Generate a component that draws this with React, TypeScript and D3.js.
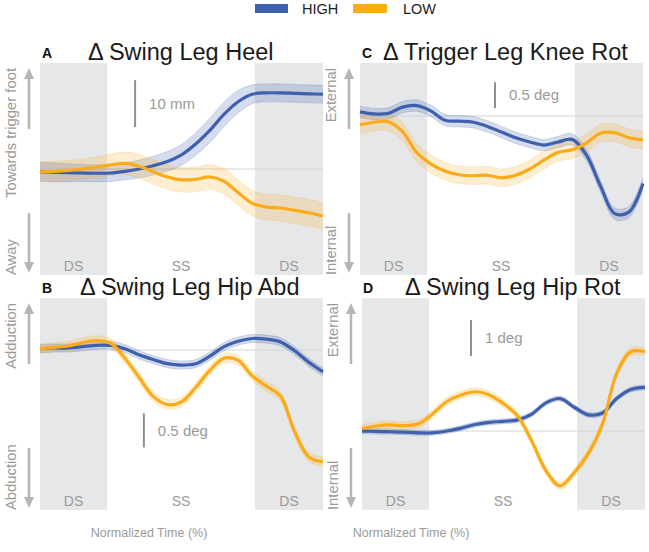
import React from 'react';
import * as d3 from 'd3';

// normalized time grid (%)
const timePct = [0, 5, 10, 15, 20, 25, 30, 35, 40, 45, 50, 55, 60, 65, 70, 75, 80, 85, 90, 95, 100];

// A - swing leg heel (mm)
const heelHigh = [-0.6, -0.7, -0.8, -0.85, -0.9, -0.85, -0.5, 0.0, 0.7, 1.6, 3.0, 5.3, 8.2, 11.6, 14.3, 15.9, 16.2, 16.2, 16.1, 16.0, 15.9];
const heelLow = [-0.6, -0.5, -0.3, 0.0, 0.4, 0.9, 1.2, 0.6, -0.6, -1.7, -2.3, -2.2, -1.7, -2.6, -5.0, -7.3, -8.1, -8.3, -8.8, -9.3, -10.0];
const heelHighCi = [2.0, 2.0, 1.9, 1.8, 1.8, 1.8, 1.8, 1.9, 2.0, 2.1, 2.2, 2.4, 2.6, 2.6, 2.4, 2.0, 1.9, 1.9, 1.9, 1.9, 1.9];
const heelLowCi = [2.1, 2.1, 2.1, 2.1, 2.2, 2.3, 2.4, 2.5, 2.6, 2.6, 2.6, 2.6, 2.6, 2.7, 2.7, 2.7, 2.7, 2.8, 2.8, 2.8, 2.8];

// B - swing leg hip abduction (deg)
const hipAbdHigh = [0.02, 0.03, 0.03, 0.05, 0.07, 0.07, 0.02, -0.07, -0.14, -0.2, -0.22, -0.2, -0.09, 0.05, 0.13, 0.17, 0.16, 0.12, -0.01, -0.18, -0.32];
const hipAbdLow = [0.02, 0.04, 0.06, 0.11, 0.14, 0.1, -0.12, -0.4, -0.68, -0.8, -0.76, -0.55, -0.3, -0.12, -0.15, -0.38, -0.53, -0.68, -1.2, -1.57, -1.64];
const hipAbdHighCi = 0.06;
const hipAbdLowCi = 0.07;

// C - trigger leg knee rotation (deg)
const kneeRotHigh = [0.08, 0.04, 0.05, 0.17, 0.2, 0.1, -0.08, -0.1, -0.12, -0.2, -0.31, -0.42, -0.5, -0.56, -0.5, -0.45, -0.75, -1.35, -1.88, -1.85, -1.3];
const kneeRotLow = [-0.17, -0.12, -0.11, -0.3, -0.7, -0.92, -1.06, -1.13, -1.15, -1.14, -1.19, -1.14, -1.02, -0.85, -0.7, -0.65, -0.52, -0.33, -0.32, -0.42, -0.46];
const kneeRotHighCi = 0.11;
const kneeRotLowCi = 0.17;

// D - swing leg hip rotation (deg)
const hipRotHigh = [0, -0.01, -0.02, -0.03, -0.05, -0.05, 0.0, 0.08, 0.18, 0.24, 0.27, 0.31, 0.47, 0.78, 0.9, 0.66, 0.45, 0.5, 0.9, 1.15, 1.21];
const hipRotLow = [0.07, 0.14, 0.17, 0.15, 0.2, 0.48, 0.82, 1.0, 1.09, 1.0, 0.76, 0.42, -0.28, -1.1, -1.52, -1.15, -0.62, 0.2, 1.6, 2.2, 2.2];
const hipRotHighCi = 0.07;
const hipRotLowCi = 0.11;

const phases = [
  { label: 'DS', from: 0, to: 23.7 },
  { label: 'SS', from: 23.7, to: 76 },
  { label: 'DS', from: 76, to: 100 },
];

const HIGH = '#3e60ad';
const LOW = '#fbab18';
const GREY_TXT = '#9a9a9a';
const ARROW = '#b5b5b5';
const FONT = "'Liberation Sans', Arial, Helvetica, sans-serif";

type Ci = number | number[];

const panels = [
  {
    letter: 'A', title: 'Δ Swing Leg Heel', titleX: 88, letterX: 42,
    x0: 40, x1: 323, y0: 63, y1: 275, domain: [-22.55, 22.55],
    high: heelHigh, low: heelLow, highCi: heelHighCi as Ci, lowCi: heelLowCi as Ci,
    up: 'Towards trigger foot', down: 'Away',
    bar: { pct: 33.6, top: 18.9, len: 10, label: '10 mm' },
  },
  {
    letter: 'C', title: 'Δ Trigger Leg Knee Rot', titleX: 383, letterX: 362,
    x0: 360, x1: 643, y0: 63, y1: 275, domain: [-3.06, 1.02],
    high: kneeRotHigh, low: kneeRotLow, highCi: kneeRotHighCi as Ci, lowCi: kneeRotLowCi as Ci,
    up: 'External', down: 'Internal',
    bar: { pct: 47.7, top: 0.65, len: 0.5, label: '0.5 deg' },
  },
  {
    letter: 'B', title: 'Δ Swing Leg Hip Abd', titleX: 80, letterX: 42,
    x0: 40, x1: 323, y0: 298, y1: 510, domain: [-2.35, 0.765],
    high: hipAbdHigh, low: hipAbdLow, highCi: hipAbdHighCi as Ci, lowCi: hipAbdLowCi as Ci,
    up: 'Adduction', down: 'Abduction',
    bar: { pct: 36.7, top: -0.93, len: 0.5, label: '0.5 deg' },
  },
  {
    letter: 'D', title: 'Δ Swing Leg Hip Rot', titleX: 405, letterX: 363,
    x0: 362, x1: 645, y0: 298, y1: 510, domain: [-2.19, 3.69],
    high: hipRotHigh, low: hipRotLow, highCi: hipRotHighCi as Ci, lowCi: hipRotLowCi as Ci,
    up: 'External', down: 'Internal',
    bar: { pct: 38.5, top: 3.08, len: 1, label: '1 deg' },
  },
];

const ciAt = (ci: Ci, i: number) => (Array.isArray(ci) ? ci[i] : ci);

const Arrow = ({ x, tail, tip }: { x: number; tail: number; tip: number }) => {
  const dir = tip < tail ? -1 : 1;
  const head = 11;
  const base = tip - dir * head;
  return (
    <g>
      <line x1={x} x2={x} y1={tail} y2={base} stroke={ARROW} strokeWidth={2.5} />
      <path d={`M${x - 5},${base} L${x + 5},${base} L${x},${tip} Z`} fill={ARROW} />
    </g>
  );
};

const Panel = ({ p }: { p: typeof panels[number] }) => {
  const x = d3.scaleLinear().domain([0, 100]).range([p.x0, p.x1]);
  const y = d3.scaleLinear().domain(p.domain).range([p.y1, p.y0]);
  const curve = d3.curveCatmullRom.alpha(0.5);
  const line = d3.line<number>().x((_, i) => x(timePct[i])).y(d => y(d)).curve(curve);
  const area = (vals: number[], ci: Ci) =>
    d3.area<number>()
      .x((_, i) => x(timePct[i]))
      .y0((d, i) => y(d - ciAt(ci, i)))
      .y1((d, i) => y(d + ciAt(ci, i)))
      .curve(curve)(vals) as string;
  const bandEdge = (vals: number[], ci: Ci, s: number) =>
    d3.line<number>().x((_, i) => x(timePct[i])).y((d, i) => y(d + s * ciAt(ci, i))).curve(curve)(vals) as string;

  const ax = p.x0 - 11;
  const tx = p.x0 - 29;
  const barX = x(p.bar.pct);
  const barTop = y(p.bar.top);
  const barBot = y(p.bar.top - p.bar.len);

  return (
    <g>
      {phases.map((ph, i) => (
        ph.label === 'DS' ? (
          <rect key={i} x={x(ph.from)} y={p.y0} width={x(ph.to) - x(ph.from)} height={p.y1 - p.y0} fill="#e6e7e9" />
        ) : null
      ))}
      <line x1={p.x0} x2={p.x1} y1={y(0)} y2={y(0)} stroke="#d4d4d4" strokeWidth={1} />
      {phases.map((ph, i) => (
        <text key={i} x={x((ph.from + ph.to) / 2)} y={p.y1 - 4} textAnchor="middle" fontSize={14} fill={GREY_TXT}>
          {ph.label}
        </text>
      ))}

      {/* confidence bands */}
      <path d={area(p.high, p.highCi)} fill={HIGH} fillOpacity={0.22} />
      <path d={bandEdge(p.high, p.highCi, 1)} fill="none" stroke={HIGH} strokeOpacity={0.25} strokeWidth={0.8} />
      <path d={bandEdge(p.high, p.highCi, -1)} fill="none" stroke={HIGH} strokeOpacity={0.25} strokeWidth={0.8} />
      <path d={area(p.low, p.lowCi)} fill={LOW} fillOpacity={0.2} />
      <path d={bandEdge(p.low, p.lowCi, 1)} fill="none" stroke={LOW} strokeOpacity={0.25} strokeWidth={0.8} />
      <path d={bandEdge(p.low, p.lowCi, -1)} fill="none" stroke={LOW} strokeOpacity={0.25} strokeWidth={0.8} />

      <path d={line(p.high) as string} fill="none" stroke={HIGH} strokeWidth={3.2} />
      <path d={line(p.low) as string} fill="none" stroke={LOW} strokeWidth={3.2} />

      {/* scale bar */}
      <line x1={barX} x2={barX} y1={barTop} y2={barBot} stroke="#8f8f8f" strokeWidth={2} />
      <text x={barX + 14} y={(barTop + barBot) / 2} dy="0.35em" fontSize={15} fill={GREY_TXT}>{p.bar.label}</text>

      {/* direction arrows */}
      <Arrow x={ax} tail={p.y0 + 66} tip={p.y0 + 5} />
      <Arrow x={ax} tail={p.y1 - 62} tip={p.y1 - 2} />
      <text transform={`translate(${tx},${p.y0 + 5}) rotate(-90)`} dy="0.35em" textAnchor="end" fontSize={14.8} fill={GREY_TXT}>
        {p.up}
      </text>
      <text transform={`translate(${tx},${p.y1}) rotate(-90)`} dy="0.35em" textAnchor="start" fontSize={14.8} fill={GREY_TXT}>
        {p.down}
      </text>

      {/* titles */}
      <text x={p.letterX} y={p.y0 - 5} fontSize={14} fontWeight="bold" fill="#111">{p.letter}</text>
      <text x={p.titleX} y={p.y0 - 3} fontSize={23.5} fill="#1a1a1a">{p.title}</text>
    </g>
  );
};

export default function App() {
  return (
    <svg width={649} height={552} style={{ position: 'absolute', left: 0, top: 0, fontFamily: FONT, background: '#fff' }}>
      {/* legend */}
      <rect x={255} y={4} width={33} height={9} fill={HIGH} />
      <text x={302} y={14} fontSize={14.5} fill="#222">HIGH</text>
      <rect x={353} y={4} width={34} height={9} fill={LOW} />
      <text x={403} y={14} fontSize={14.5} fill="#222">LOW</text>

      {panels.map(p => <Panel key={p.letter} p={p} />)}

      <text x={149} y={537} textAnchor="middle" fontSize={12.5} fill={GREY_TXT}>Normalized Time (%)</text>
      <text x={411} y={537} textAnchor="middle" fontSize={12.5} fill={GREY_TXT}>Normalized Time (%)</text>
    </svg>
  );
}
